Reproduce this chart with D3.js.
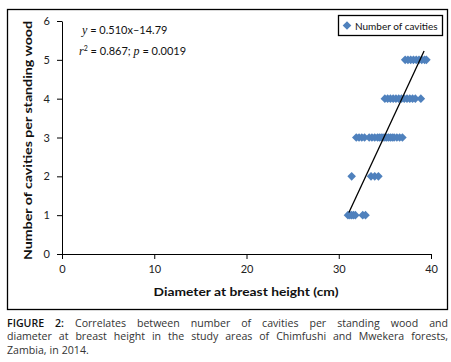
<!doctype html>
<html>
  <head>
    <script src="https://cdn.jsdelivr.net/npm/d3@7/dist/d3.min.js"></script>
    <style>
      body { margin: 0; background: #fff; }
      svg { display: block; font-family: Lato, "Open Sans", sans-serif; }
      .axis .domain, .axis line { stroke: #000; }
      .axis text { font-size: 11px; fill: #222; font-family: Lato, sans-serif; }
      .caption { font-family: "Open Sans", sans-serif; font-size: 10.6px; fill: #333; }
    </style>
  </head>
  <body>
    <script>
      // cavities per tree vs DBH (cm)
      var cav1 = [31.0, 31.2, 31.4, 31.6, 31.8, 32.6, 32.9];
      var cav2 = [31.4, 33.5, 33.9, 34.3];
      var cav3 = [31.9, 32.2, 32.5, 32.8, 33.3, 33.6, 33.9, 34.2, 34.4, 34.6, 34.8, 35.0,
                  35.2, 35.4, 35.6, 35.8, 36.0, 36.3, 36.6, 36.9];
      var cav4 = [35.0, 35.3, 35.6, 35.9, 36.2, 36.5, 36.8, 37.1, 37.4, 37.7, 38.0, 38.3, 38.9];
      var cav5 = [37.2, 37.5, 37.8, 38.1, 38.4, 38.7, 39.0, 39.3, 39.5];
      var slope = 0.510, intercept = -14.79;
      var fitRange = [31.1, 39.25];
      var xTicks = [0, 10, 20, 30, 40];
      var yTicks = [0, 1, 2, 3, 4, 5, 6];

      var data = [];
      [cav1, cav2, cav3, cav4, cav5].forEach(function(arr, i) {
        arr.forEach(function(d) { data.push({ dbh: d, n: i + 1 }); });
      });

      var W = 451, H = 362;
      var svg = d3.select("body").append("svg").attr("width", W).attr("height", H);
      svg.append("rect").attr("width", W).attr("height", H).attr("fill", "#fff");

      // outer chart frame
      svg.append("rect")
        .attr("x", 7.5).attr("y", 9.5).attr("width", 440).attr("height", 300)
        .attr("fill", "none").attr("stroke", "#000").attr("stroke-width", 1.3);

      var x = d3.scaleLinear().domain([0, 40]).range([62, 431]);
      var y = d3.scaleLinear().domain([0, 6]).range([254, 21]);

      svg.append("g")
        .attr("class", "axis")
        .attr("transform", "translate(0," + y(0) + ")")
        .call(d3.axisBottom(x).tickValues(xTicks).tickFormat(d3.format("d")).tickSize(5).tickSizeOuter(0).tickPadding(6));

      svg.append("g")
        .attr("class", "axis")
        .attr("transform", "translate(" + x(0) + ",0)")
        .call(d3.axisLeft(y).tickValues(yTicks).tickFormat(d3.format("d")).tickSize(5).tickSizeOuter(0).tickPadding(7));

      // axis titles
      svg.append("text")
        .attr("x", 246).attr("y", 296)
        .attr("text-anchor", "middle")
        .attr("font-size", 12).attr("font-weight", "bold").attr("fill", "#111")
        .attr("textLength", 185).attr("lengthAdjust", "spacingAndGlyphs")
        .text("Diameter at breast height (cm)");

      svg.append("text")
        .attr("transform", "translate(32,140.5) rotate(-90)")
        .attr("text-anchor", "middle")
        .attr("font-size", 12).attr("font-weight", "bold").attr("fill", "#111")
        .attr("textLength", 239).attr("lengthAdjust", "spacingAndGlyphs")
        .text("Number of cavities per standing wood");

      // points
      var r = 4.3;
      var diamond = "M0," + (-r) + "L" + r + ",0L0," + r + "L" + (-r) + ",0Z";
      svg.append("g").selectAll("path")
        .data(data)
        .enter().append("path")
        .attr("d", diamond)
        .attr("transform", d => "translate(" + x(d.dbh) + "," + y(d.n) + ")")
        .attr("fill", "#4f81bd");

      // regression line
      svg.append("line")
        .attr("x1", x(fitRange[0])).attr("y1", y(slope * fitRange[0] + intercept))
        .attr("x2", x(fitRange[1])).attr("y2", y(slope * fitRange[1] + intercept))
        .attr("stroke", "#000").attr("stroke-width", 1.3);

      // equation
      var eq = svg.append("text").attr("x", 82).attr("y", 34).attr("font-size", 11).attr("fill", "#111");
      eq.append("tspan").attr("font-family", "Liberation Serif, serif").attr("font-style", "italic").attr("font-size", 12).text("y");
      eq.append("tspan").text(" = 0.510x\u201314.79");

      var rs = svg.append("text").attr("x", 79).attr("y", 55).attr("font-size", 11).attr("fill", "#111");
      rs.append("tspan").attr("font-family", "Liberation Serif, serif").attr("font-style", "italic").attr("font-size", 12).text("r");
      rs.append("tspan").attr("font-size", 7).attr("dy", -4).text("2");
      rs.append("tspan").attr("dy", 4).text(" = 0.867; ");
      rs.append("tspan").attr("font-family", "Liberation Serif, serif").attr("font-style", "italic").attr("font-size", 12).text("p");
      rs.append("tspan").text(" = 0.0019");

      // legend
      svg.append("rect")
        .attr("x", 338.5).attr("y", 15.5).attr("width", 104).attr("height", 20)
        .attr("fill", "#fff").attr("stroke", "#000").attr("stroke-width", 1.3);
      svg.append("path").attr("d", diamond).attr("transform", "translate(347,25.5)").attr("fill", "#4f81bd");
      svg.append("text").attr("x", 355).attr("y", 29.5).attr("font-size", 10).attr("fill", "#111")
        .text("Number of cavities");

      // caption, first two lines justified
      var capLines = [
        { words: ["FIGURE", "2:", "Correlates", "between", "number", "of", "cavities", "per", "standing", "wood", "and"], justify: true },
        { words: ["diameter", "at", "breast", "height", "in", "the", "study", "areas", "of", "Chimfushi", "and", "Mwekera", "forests,"], justify: true },
        { words: ["Zambia,", "in", "2014."], justify: false }
      ];
      var capLeft = 7, capRight = 448, capY = [326.8, 340.2, 353.6];
      capLines.forEach(function(line, li) {
        var g = svg.append("g").attr("class", "caption");
        var nodes = line.words.map(function(w, wi) {
          var t = g.append("text").attr("y", capY[li]).text(w);
          if (li === 0 && wi < 2) t.attr("fill", "#111").attr("font-weight", 600);
          return t;
        });
        var widths = nodes.map(n => n.node().getComputedTextLength());
        var total = d3.sum(widths);
        var gap = line.justify ? (capRight - capLeft - total) / (nodes.length - 1) : 3;
        var cx = capLeft;
        nodes.forEach(function(n, i) {
          n.attr("x", cx);
          cx += widths[i] + gap;
        });
      });
    </script>
  </body>
</html>
